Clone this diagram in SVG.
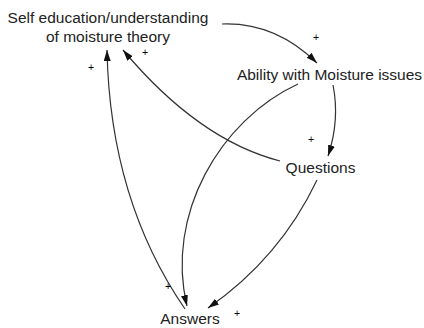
<svg xmlns="http://www.w3.org/2000/svg" width="424" height="328" viewBox="0 0 424 328">
<style>
  .lbl{font-family:"Liberation Sans",Arial,sans-serif;font-size:15.5px;fill:#222;text-anchor:middle}
  .pol{font-family:"Liberation Sans",Arial,sans-serif;font-size:10.5px;fill:#000;text-anchor:middle}
  .edge{fill:none;stroke:#333;stroke-width:1.2;marker-end:url(#ah)}
</style>
<defs>
  <marker id="ah" markerUnits="userSpaceOnUse" markerWidth="12" markerHeight="8" refX="11" refY="3.5" orient="auto">
    <path d="M0,0 L11,3.5 L0,7 z" fill="#111"/>
  </marker>
</defs>
<rect width="424" height="328" fill="#fff"/>
<g id="connectors">
  <path class="edge" d="M222,24 Q275,22 317,63"/>
  <path class="edge" d="M333,85 Q340,120 328,156"/>
  <path class="edge" d="M280,161 Q198.5,140 123,50"/>
  <path class="edge" d="M185,309 Q110,200 107,50"/>
  <path class="edge" d="M298,84 C220,120 165,215 187,306"/>
  <path class="edge" d="M317,180 Q280,258 208,308"/>
  <text class="pol" x="316" y="41">+</text>
  <text class="pol" x="311" y="143">+</text>
  <text class="pol" x="145" y="55.5">+</text>
  <text class="pol" x="91" y="71">+</text>
  <text class="pol" x="168" y="290">+</text>
  <text class="pol" x="237" y="317">+</text>
</g>
<g id="self">
  <text class="lbl" x="108" y="23">Self education/understanding</text>
  <text class="lbl" x="108" y="42">of moisture theory</text>
</g>
<g id="ability">
  <text class="lbl" x="329.5" y="80">Ability with Moisture issues</text>
</g>
<g id="questions">
  <text class="lbl" x="320.5" y="173">Questions</text>
</g>
<g id="answers">
  <text class="lbl" x="190" y="324">Answers</text>
</g>
</svg>
